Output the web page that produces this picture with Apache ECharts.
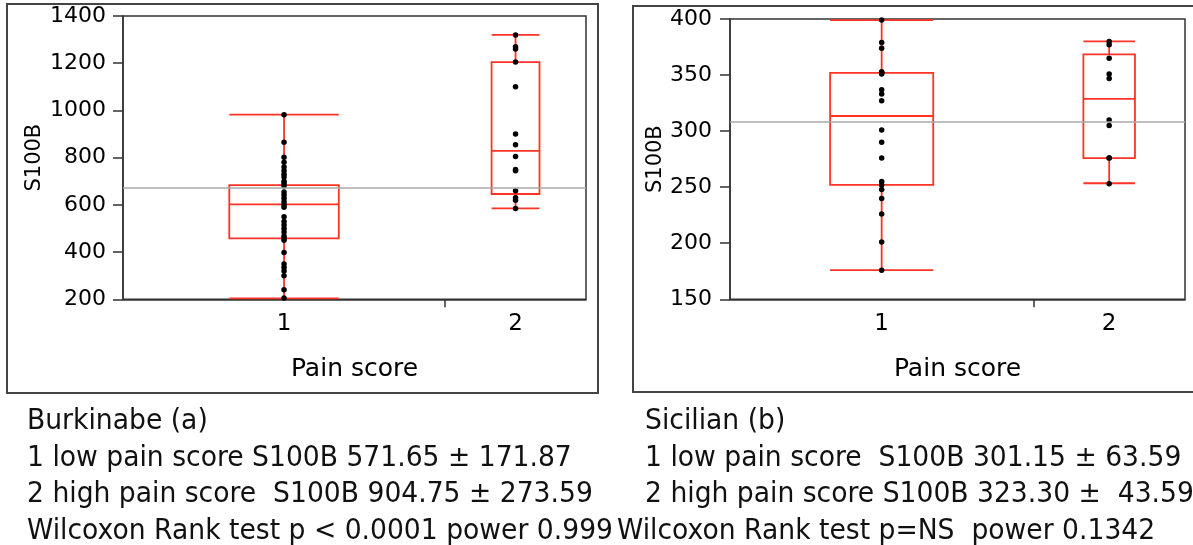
<!DOCTYPE html>
<html>
<head>
<meta charset="utf-8">
<script src="https://cdn.jsdelivr.net/npm/echarts@6.0.0/dist/echarts.min.js"></script>
<style>
  html, body { margin: 0; padding: 0; background: #fff; }
  #chart { width: 1193px; height: 545px; }
</style>
</head>
<body>
<div id="chart"></div>
<script>
// pain score groups
var painGroups = ['1', '2'];

// Burkinabe (a) S100B values
var burkLow = [982, 865, 802, 780, 760, 745, 730, 718, 700, 690, 680, 655, 642, 628, 613, 600,
  590, 550, 530, 515, 500, 485, 468, 460, 450, 398, 350, 335, 320, 300, 240, 205];
var burkHigh = [1320, 1270, 1260, 1205, 1100, 900, 855, 805, 750, 745, 660, 630, 620, 585];
// box: min, q1, median, q3, max
var burkBox = [[204, 458, 602, 684, 982], [585, 646, 829, 1205, 1320]];

// Sicilian (b) S100B values
var sicLow = [399, 379, 374, 353, 352, 352, 351, 337, 333, 327, 301, 290, 276, 255, 252, 248,
  240, 226, 201, 176];
var sicHigh = [380, 377, 365, 351, 347, 310, 305, 276, 276, 253];
var sicBox = [[176, 252, 313.5, 352, 399], [253.5, 276, 328.7, 368.5, 380]];

// y tick ranges
var burkTicks = [200, 1400, 200];
var sicTicks = [150, 400, 50];

// texts under the panels
var burkText = ['Burkinabe (a)', '1 low pain score S100B 571.65 \u00b1 171.87',
  '2 high pain score  S100B 904.75 \u00b1 273.59', 'Wilcoxon Rank test p < 0.0001 power 0.999'];
var sicText = ['Sicilian (b)', '1 low pain score  S100B 301.15 \u00b1 63.59',
  '2 high pain score S100B 323.30 \u00b1  43.59', 'Wilcoxon Rank test p=NS  power 0.1342'];

var RED = '#ff3324';
var FONT = 'DejaVu Sans';
var BOX_FRAC = 0.34; // box width as part of the group width (JMP: width ~ n)

var myChart = echarts.init(document.getElementById('chart'));

function renderBox(params, api) {
  var c = api.value(0), hw = api.value(6) * BOX_FRAC / 2;
  var xl = api.coord([c - hw, api.value(1)])[0];
  var xr = api.coord([c + hw, api.value(1)])[0];
  var xc = api.coord([c, api.value(1)])[0];
  var y = function (k) { return api.coord([c, api.value(k)])[1]; };
  var st = { stroke: RED, lineWidth: 1.8, fill: 'none' };
  var line = function (x1, y1, x2, y2) {
    return { type: 'line', shape: { x1: x1, y1: y1, x2: x2, y2: y2 }, style: st };
  };
  return {
    type: 'group',
    children: [
      { type: 'rect', shape: { x: xl, y: y(4), width: xr - xl, height: y(2) - y(4) }, style: st },
      line(xl, y(3), xr, y(3)),
      line(xc, y(4), xc, y(5)),
      line(xc, y(2), xc, y(1)),
      line(xl, y(5), xr, y(5)),
      line(xl, y(1), xr, y(1))
    ]
  };
}

// builds axes + series of one panel
function makePanel(idx, groups, box, ticks, grid, yNameGap, labelMargin) {
  var ns = groups.map(function (g) { return g.length; });
  var total = ns[0] + ns[1];
  var centers = [ns[0] / 2, ns[0] + ns[1] / 2];
  var pts = [], all = [];
  groups.forEach(function (g, i) {
    g.forEach(function (v) { pts.push([centers[i], v]); all.push(v); });
  });
  var mean = all.reduce(function (a, b) { return a + b; }, 0) / all.length;
  var boxData = box.map(function (b, i) { return [centers[i]].concat(b).concat([ns[i]]); });

  return {
    grid: grid,
    xAxis: {
      type: 'value', gridIndex: idx, min: 0, max: total,
      name: 'Pain score', nameLocation: 'middle', nameGap: 58,
      nameTextStyle: { fontFamily: FONT, fontSize: 25, color: '#000' },
      axisLine: { show: true, lineStyle: { color: '#333', width: 1.5 } },
      axisTick: { show: true, inside: false, length: 8, customValues: [ns[0]],
        lineStyle: { color: '#333', width: 1.5 } },
      axisLabel: { customValues: centers, margin: 13, fontFamily: FONT, fontSize: 23, color: '#000',
        formatter: function (v) { return painGroups[centers.indexOf(v)]; } },
      splitLine: { show: false }
    },
    yAxis: {
      type: 'value', gridIndex: idx, min: ticks[0], max: ticks[1], interval: ticks[2],
      name: 'S100B', nameLocation: 'middle', nameGap: yNameGap,
      nameTextStyle: { fontFamily: FONT, fontSize: 21, color: '#000' },
      axisLine: { show: true, lineStyle: { color: '#333', width: 1.5 } },
      axisTick: { show: true, length: 10, lineStyle: { color: '#333', width: 1.5 } },
      axisLabel: { margin: labelMargin, fontFamily: FONT, fontSize: 22, color: '#000',
        formatter: function (v) { return String(v); } },
      splitLine: { show: false }
    },
    series: [
      {
        type: 'custom', xAxisIndex: idx, yAxisIndex: idx,
        renderItem: renderBox, data: boxData, z: 2, silent: true
      },
      {
        type: 'scatter', xAxisIndex: idx, yAxisIndex: idx, data: pts,
        symbolSize: 5.5, itemStyle: { color: '#000', opacity: 1 }, z: 3, silent: true,
        markLine: {
          silent: true, symbol: 'none', label: { show: false },
          lineStyle: { color: '#a8a8a8', width: 1.5, type: 'solid' },
          data: [{ yAxis: mean }]
        }
      }
    ]
  };
}

var left = makePanel(0, [burkLow, burkHigh], burkBox, burkTicks,
  { left: 123, top: 16, width: 463, height: 283.3 }, 78, 17);
var right = makePanel(1, [sicLow, sicHigh], sicBox, sicTicks,
  { left: 730, top: 19, width: 455, height: 280.3 }, 62, 18);
[left.grid, right.grid].forEach(function (g) {
  g.show = true; g.borderColor = '#333'; g.borderWidth = 1.5; g.backgroundColor = '#fff';
});

// text lines under a panel, slightly condensed like the original font
function textBlock(lines, xs) {
  return lines.map(function (t, i) {
    return {
      type: 'text', x: xs[i], y: 408 + i * 36.6, scaleX: 0.95,
      style: { text: t, font: '28px "' + FONT + '"', fill: '#111', verticalAlign: 'top' }
    };
  });
}

var graphics = [
  { type: 'rect', shape: { x: 7, y: 4, width: 591, height: 389 },
    style: { stroke: '#444', lineWidth: 2, fill: 'none' }, z: -1 },
  { type: 'rect', shape: { x: 633, y: 6, width: 600, height: 386 },
    style: { stroke: '#444', lineWidth: 2, fill: 'none' }, z: -1 }
].concat(textBlock(burkText, [27, 27, 27, 27]))
  .concat(textBlock(sicText, [645, 645, 645, 617]));

var option = {
  animation: false,
  backgroundColor: '#fff',
  grid: [left.grid, right.grid],
  xAxis: [left.xAxis, right.xAxis],
  yAxis: [left.yAxis, right.yAxis],
  series: left.series.concat(right.series),
  graphic: graphics
};
myChart.setOption(option);
</script>
</body>
</html>
